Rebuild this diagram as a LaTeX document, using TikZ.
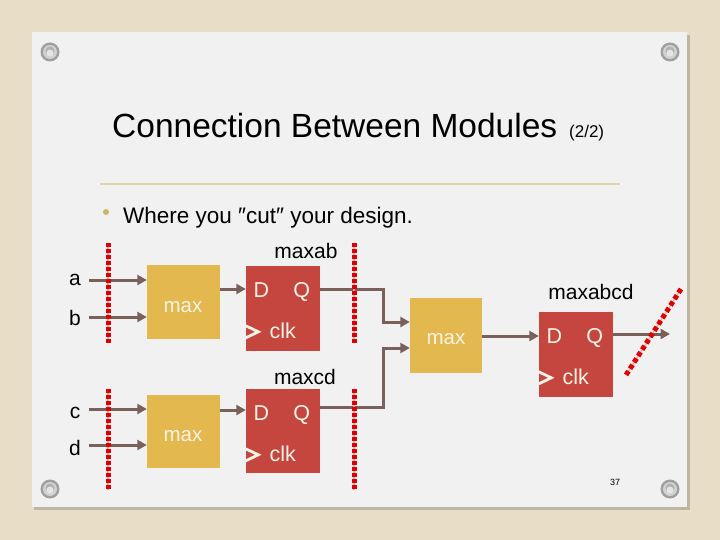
\documentclass[tikz,border=0pt]{standalone}
\usepackage{fontspec}
\setmainfont{Liberation Sans}
\usetikzlibrary{arrows.meta,calc}
\definecolor{bgbeige}{HTML}{E8DEC8}
\definecolor{cardc}{HTML}{F1F1F1}
\definecolor{gold}{HTML}{E3B84F}
\definecolor{ffred}{HTML}{C4463E}
\definecolor{wirec}{HTML}{7A605A}
\definecolor{cutred}{HTML}{E00000}
\definecolor{rulec}{HTML}{DFD2A4}
\definecolor{bulletc}{HTML}{CDB565}
\definecolor{boxtext}{HTML}{FBF3E6}
\begin{document}
\begin{tikzpicture}[x=1pt,y=-1pt,
  wire/.style={draw=wirec, line width=3pt, -{Triangle[length=9.5pt,width=10pt]}},
  cut/.style={draw=cutred, line width=5pt, dash pattern=on 4pt off 2pt},
  cutbg/.style={draw=cutred!35, line width=1.2pt},
  maxbox/.style={fill=gold, minimum width=73pt, minimum height=74pt, inner sep=0pt},
  maxtxt/.style={text=boxtext, inner sep=0pt, font=\fontsize{20.5}{24}\selectfont},
  ffbox/.style={fill=ffred, minimum width=74pt, minimum height=85pt, inner sep=0pt},
  fftxt/.style={text=boxtext, anchor=base, inner sep=0pt, font=\fontsize{21.5}{24}\selectfont},
  lbl/.style={anchor=center, inner sep=0pt, font=\fontsize{21}{24}\selectfont},
  inlbl/.style={anchor=base, inner sep=0pt, font=\fontsize{21}{24}\selectfont},
  chev/.style={draw=boxtext, line width=2.8pt},
]
\useasboundingbox (0,0) rectangle (720,540);
% background and card
\fill[bgbeige] (0,0) rectangle (720,540);
\fill[black, opacity=0.18] (34,35) rectangle (690,510);
\fill[cardc] (32,32) rectangle (687,507);
% screws
\foreach \sx/\sy in {50/52, 670/52, 50/489, 670/489}{
  \fill[gray!75] (\sx,\sy) circle (9.5pt);
  \fill[gray!35] (\sx,\sy) circle (7pt);
  \fill[gray!60] (\sx,\sy-1) circle (4.5pt);
  \fill[gray!20] (\sx,\sy+1) circle (3.5pt);
}
% title
\node[anchor=base west, inner sep=0pt, font=\fontsize{33.5}{38}\selectfont] (title) at (112,138) {Connection Between Modules};
\node[anchor=base west, inner sep=0pt, font=\fontsize{17}{20}\selectfont] (pg) at (569,138) {(2/2)};
\draw[rulec, line width=2pt] (100,184) -- (620,184);
\fill[bulletc] (106,212) circle (3pt);
\node[anchor=base west, inner sep=0pt, font=\fontsize{22.5}{26}\selectfont] (sub) at (123,224) {Where you ″cut″ your design.};
% boxes
\node[maxbox] (max1) at (183.5,302) {};
\node[maxbox, minimum height=73pt] (max2) at (183.5,431.5) {};
\node[maxbox, minimum width=72pt, minimum height=75pt] (max3) at (446,335.5) {};
\node[maxtxt] (max1t) at (183,307) {max};
\node[maxtxt] (max2t) at (183,436) {max};
\node[maxtxt] (max3t) at (446,339.5) {max};
\node[ffbox] (ff1) at (283,308.5) {};
\node[ffbox, minimum height=84pt] (ff2) at (283,431) {};
\node[ffbox] (ff3) at (576,354.5) {};
\foreach \f in {ff1,ff2,ff3}{
  \node[fftxt] (\f D) at ($(\f.north west)+(15.5,32)$) {D};
  \node[fftxt] (\f Q) at ($(\f.north west)+(56,32)$) {Q};
  \node[fftxt] (\f clk) at ($(\f.north west)+(37,72.5)$) {clk};
  \draw[chev] ($(\f.north west)+(0,60)$) -- ($(\f.north west)+(12.5,66)$) -- ($(\f.north west)+(0,72)$);
}
% labels
\node[lbl] (lab1) at (306,251) {maxab};
\node[lbl] (lab2) at (305,377) {maxcd};
\node[lbl] (lab3) at (591,292) {maxabcd};
\node[inlbl] (la) at (75,285) {a};
\node[inlbl] (lb) at (75,325) {b};
\node[inlbl] (lc) at (75,418) {c};
\node[inlbl] (ld) at (75,455) {d};
\node[inner sep=0pt, font=\fontsize{9}{10}\selectfont] (num) at (615,482) {37};
% wires
\coordinate (ain) at (89,280);
\coordinate (bin) at (89,317);
\coordinate (cin) at (89,409);
\coordinate (din) at (89,445);
\foreach \c in {ain,bin,cin,din}{
  \draw[wire] (\c) -- (\c -| max1.west);
}
\coordinate (r1) at (0,289);
\coordinate (r2) at (0,410);
\coordinate (q2) at (0,407);
\coordinate (r3) at (0,336);
\coordinate (j1) at (383,322);
\coordinate (j2) at (383,348);
\coordinate (qout) at (670,334);
\draw[wire] (max1.east |- r1) -- (ff1.west |- r1);
\draw[wire] (max2.east |- r2) -- (ff2.west |- r2);
\draw[wire] (ff1.east |- r1) -| (j1) -- (j1 -| max3.west);
\draw[wire] (ff2.east |- q2) -| (j2) -- (j2 -| max3.west);
\draw[wire] (max3.east |- r3) -- (ff3.west |- r3);
\draw[wire] (ff3.east |- qout) -- (qout);
% cut lines
\foreach \xx in {108,354}{
  \draw[cutbg] (\xx,243) -- (\xx,343);
  \draw[cut] (\xx,243) -- (\xx,343);
  \draw[cutbg] (\xx,389) -- (\xx,490);
  \draw[cut] (\xx,389) -- (\xx,490);
}
\draw[cutbg] (681,289) -- (626,375);
\draw[cut, dash pattern=on 4.5pt off 3pt] (681,289) -- (626,375);
\end{tikzpicture}
\end{document}
